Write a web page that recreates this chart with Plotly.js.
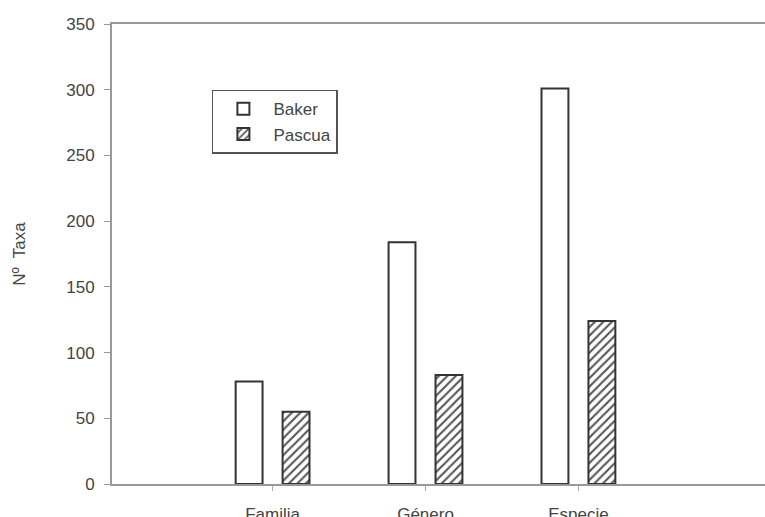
<!DOCTYPE html>
<html>
<head>
<meta charset="utf-8">
<script src="https://cdn.plot.ly/plotly-3.0.1.min.js"></script>
<style>html,body{margin:0;padding:0;background:#fff;}</style>
</head>
<body>
<div id="chart" style="width:765px;height:517px;"></div>
<script>
const categories = ["Familia", "Género", "Especie"];
const bakerValues = [78, 184, 301];
const pascuaValues = [55, 83, 124];
const seriesNames = ["Baker", "Pascua"];
const yTickVals = [0, 50, 100, 150, 200, 250, 300, 350];

const traces = [
  {
    type: "bar", name: seriesNames[0], x: categories, y: bakerValues,
    marker: {color: "#ffffff", line: {color: "#333333", width: 2}}
  },
  {
    type: "bar", name: seriesNames[1], x: categories, y: pascuaValues,
    marker: {color: "#ffffff", line: {color: "#333333", width: 2},
      pattern: {shape: "/", fgcolor: "#555555", bgcolor: "#ffffff", size: 6, solidity: 0.35}}
  }
];

const layout = {
  width: 765, height: 517,
  margin: {l: 112, r: 0, t: 24, b: 33, pad: 0},
  paper_bgcolor: "#ffffff", plot_bgcolor: "#ffffff",
  font: {family: "Liberation Sans, Arial, sans-serif", size: 17, color: "#444444"},
  barmode: "group", bargap: 0.386, bargroupgap: 0.427,
  showlegend: true,
  legend: {x: 0.153, y: 0.857, xanchor: "left", yanchor: "top",
    bordercolor: "#555555", borderwidth: 1.5, bgcolor: "#ffffff",
    font: {size: 17, color: "#444444"}, tracegroupgap: 0, itemwidth: 50},
  xaxis: {
    type: "category", range: [-1.05, 3.22],
    showline: true, linecolor: "#999999", linewidth: 2, mirror: true,
    ticks: "outside", ticklen: 5, tickcolor: "#aaaaaa", tickwidth: 1,
    showgrid: false, zeroline: false, ticklabelstandoff: 9,
    tickfont: {size: 17, color: "#444444"}
  },
  yaxis: {
    range: [0, 350], tickvals: yTickVals,
    showline: true, linecolor: "#999999", linewidth: 2, mirror: false,
    ticks: "outside", ticklen: 6, tickcolor: "#999999", tickwidth: 1,
    showgrid: false, zeroline: false, ticklabelstandoff: 6,
    tickfont: {size: 17, color: "#444444"},
    title: {text: "Nº\u00a0 Taxa", font: {size: 17, color: "#444444"}, standoff: 36}
  }
};

Plotly.newPlot("chart", traces, layout, {staticPlot: true, displayModeBar: false});
</script>
</body>
</html>
